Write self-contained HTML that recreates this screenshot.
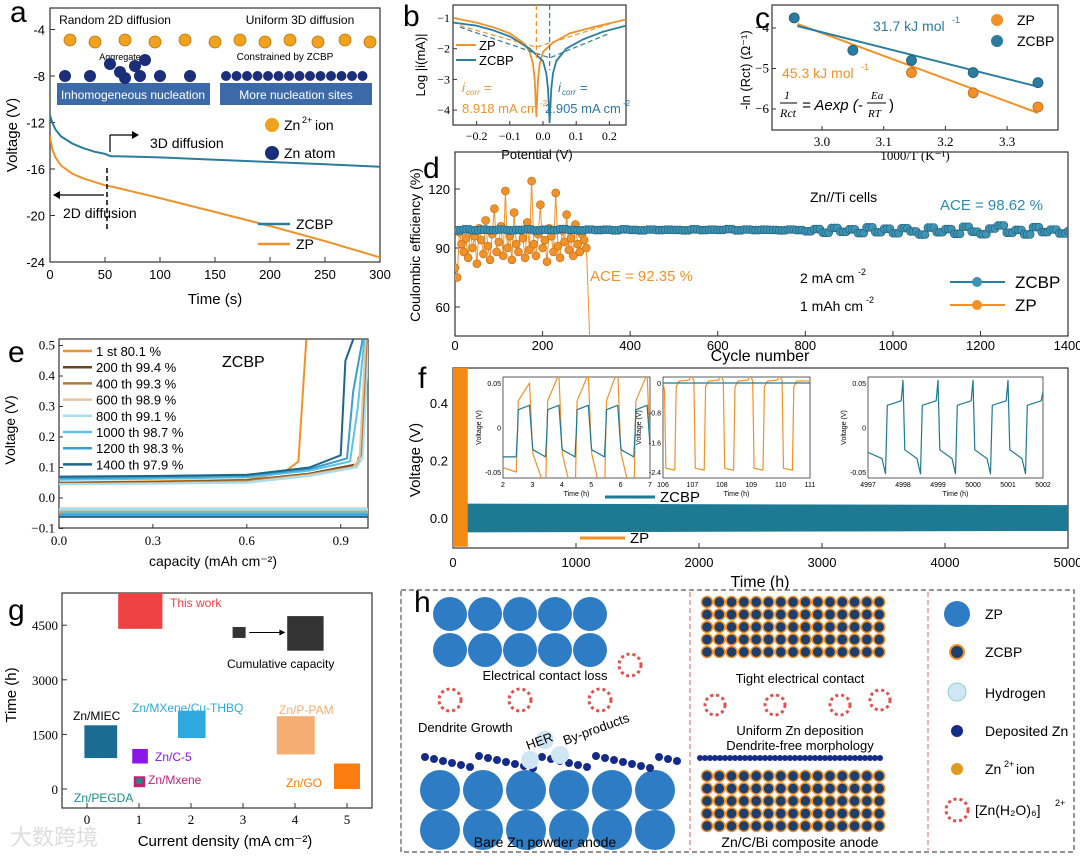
<!DOCTYPE html>
<html><head><meta charset="utf-8"><style>
html,body{margin:0;padding:0;background:#fff;}
svg{display:block;font-family:"Liberation Sans",sans-serif;}
.serif{font-family:"Liberation Serif",serif;}
</style></head><body>
<svg id="fig" width="1080" height="856" viewBox="0 0 1080 856" xmlns="http://www.w3.org/2000/svg"></svg>
<script>
// ---------- Panel a data ----------
const aTime = [0,2,5,10,20,30,40,50,55,60,100,150,200,250,300];
const aZCBP = [-11.4,-12.0,-12.6,-13.2,-13.8,-14.2,-14.5,-14.7,-14.9,-14.9,-15.0,-15.2,-15.4,-15.6,-15.8];
const aZP = [-13.2,-14.3,-15.0,-15.7,-16.4,-16.8,-17.1,-17.4,-17.5,-17.6,-18.5,-19.7,-20.9,-22.2,-23.6];
const aXTicks = [0,50,100,150,200,250,300];
const aYTicks = [-4,-8,-12,-16,-20,-24];
// ---------- Panel b data ----------
const bPotZP = [-0.27,-0.2,-0.15,-0.1,-0.06,-0.04,-0.03,-0.025,-0.02,-0.015,-0.01,0.0,0.03,0.08,0.15,0.25];
const bLogZP = [-1.0,-1.15,-1.3,-1.5,-1.8,-2.1,-2.5,-3.0,-4.2,-3.0,-2.5,-2.1,-1.8,-1.5,-1.3,-1.05];
const bPotZCBP = [-0.27,-0.2,-0.15,-0.1,-0.04,0.0,0.01,0.015,0.02,0.025,0.03,0.04,0.07,0.12,0.18,0.25];
const bLogZCBP = [-1.15,-1.25,-1.4,-1.6,-2.0,-2.4,-2.8,-3.3,-4.4,-3.3,-2.8,-2.4,-2.0,-1.7,-1.45,-1.25];
const bXTicks = [-0.2,-0.1,0.0,0.1,0.2];
const bYTicks = [-1,-2,-3,-4];
// ---------- Panel c data ----------
const cInvT = [2.955,3.05,3.145,3.245,3.35];
const cZCBP = [-3.75,-4.55,-4.8,-5.1,-5.35];
const cZPx = [3.145,3.245,3.35];
const cZP = [-5.1,-5.6,-5.95];
const cFitZCBP = [-3.95,-5.45];
const cFitZP = [-3.9,-6.1];
const cXTicks = [3.0,3.1,3.2,3.3];
const cYTicks = [-4,-5,-6];
// ---------- Panel d data ----------
const dZCBPvals = [99,99.5,99,99.3,99.1,99.4,99,99.2,99.5,99,99.3,99.1,99.6,99.2,99,99.4,99.1,99.3,99,99.5,99.2,99,99.4,99.1,99.3,99.2,99,99.5,99.1,99.3,99.2,99.6,99,99.4,99.1,99.3,99.2,99,99.4,99.1,98.5,99.6,97.8,100.2,98.2,99.5,97.6,100.5,98,99.8,97.5,100.1,98.4,96.8,100.4,98,99.6,97.2,100.8,98.3,97,99.9,101.5,97.8,99.2,96.9,100.6,98.1,99.4,97.4,98.6];
const dZCBPstep = 20;
const dZPvals = [80,75,98,92,88,95,85,99,90,96,82,100,94,87,104,91,84,97,110,88,93,101,86,119,90,96,84,108,92,88,99,95,85,103,89,124,92,86,97,112,90,94,83,100,96,88,118,91,85,99,93,107,89,95,86,102,92,88,97,94,90];
const dZPstep = 5;
const dXTicks = [0,200,400,600,800,1000,1200,1400];
const dYTicks = [60,90,120];
// ---------- Panel e data ----------
const eNames = ["1 st   80.1 %","200 th  99.4 %","400 th  99.3 %","600 th  98.9 %","800 th  99.1 %","1000 th  98.7 %","1200 th  98.3 %","1400 th  97.9 %"];
const eColors = ["#f0922a","#6e4522","#b07a3c","#e6c6a0","#a5e0f2","#5cc3ea","#3a9fd0","#1d6688"];
const eCap = [
 [0,0.3,0.6,0.72,0.765,0.79],
 [0,0.3,0.6,0.8,0.95,0.965,0.98],
 [0,0.3,0.6,0.8,0.95,0.965,0.985],
 [0,0.3,0.6,0.8,0.94,0.96,0.98],
 [0,0.3,0.6,0.8,0.95,0.97,0.99],
 [0,0.3,0.6,0.8,0.93,0.955,0.975],
 [0,0.3,0.6,0.8,0.92,0.94,0.97],
 [0,0.3,0.6,0.8,0.9,0.915,0.94]];
const eVolt = [
 [0.05,0.055,0.06,0.085,0.12,0.52],
 [0.05,0.052,0.058,0.08,0.11,0.15,0.52],
 [0.048,0.05,0.056,0.078,0.105,0.14,0.52],
 [0.045,0.048,0.052,0.075,0.1,0.13,0.52],
 [0.045,0.047,0.05,0.072,0.1,0.13,0.52],
 [0.06,0.063,0.068,0.09,0.12,0.3,0.52],
 [0.065,0.068,0.072,0.095,0.13,0.35,0.52],
 [0.07,0.072,0.076,0.1,0.14,0.45,0.52]];
const ePlating = [-0.05,-0.035,-0.04,-0.04,-0.035,-0.045,-0.055,-0.062];
const eXTicks = [0.0,0.3,0.6,0.9];
const eYTicks = [-0.1,0.0,0.1,0.2,0.3,0.4,0.5];
// ---------- Panel f data ----------
const fZCBPtime = [100,5000];
const fZCBPmin = [-0.05,-0.045];
const fZCBPmax = [0.05,0.045];
const fZPtime = [0,120];
const fZPmin = -0.1;
const fZPmax = 0.55;
const fXTicks = [0,1000,2000,3000,4000,5000];
const fYTicks = [0.0,0.2,0.4];
// ---------- Panel g data ----------
const gLabels = ["This work","Cumulative small","Cumulative large","Zn/MIEC","Zn/MXene/Cu-THBQ","Zn/C-5","Zn/Mxene","Zn/P-PAM","Zn/GO"];
const gX0 = [0.6,2.8,3.85,-0.05,1.75,0.87,0.9,3.65,4.75];
const gX1 = [1.45,3.05,4.55,0.58,2.28,1.17,1.12,4.38,5.25];
const gY0 = [4400,4150,3800,850,1400,700,50,950,0];
const gY1 = [5600,4450,4750,1750,2150,1100,350,2000,700];
const gColors = ["#ee4144","#333","#333","#1b6c92","#2ea9df","#8a16e8","#c41f77","#f4ad72","#fb7d12"];
const gXTicks = [0,1,2,3,4,5];
const gYTicks = [0,1500,3000,4500];

// ---------- helpers ----------
const NS="http://www.w3.org/2000/svg";
const svg=document.getElementById('fig');
function el(tag,attrs,parent){const e=document.createElementNS(NS,tag);for(const k in attrs)e.setAttribute(k,attrs[k]);(parent||svg).appendChild(e);return e;}
function txt(x,y,s,attrs,parent){const e=el('text',Object.assign({x:x,y:y},attrs||{}),parent);e.textContent=s;return e;}
function lin(a,b,c,d,col,w,dash,parent){const e=el('line',{x1:a,y1:b,x2:c,y2:d,stroke:col,'stroke-width':w||1},parent);if(dash)e.setAttribute('stroke-dasharray',dash);return e;}
function poly(xs,ys,fx,fy,col,w,parent,dash){const p=xs.map((v,i)=>fx(v).toFixed(1)+','+fy(ys[i]).toFixed(1)).join(' ');const e=el('polyline',{points:p,fill:'none',stroke:col,'stroke-width':w,'stroke-linejoin':'round'},parent);if(dash)e.setAttribute('stroke-dasharray',dash);return e;}
function frame(x0,y0,x1,y1,parent){return el('rect',{x:x0,y:y0,width:x1-x0,height:y1-y0,fill:'none',stroke:'#333','stroke-width':1.2},parent);}
function clip(id,x0,y0,x1,y1){const d=el('clipPath',{id:id});el('rect',{x:x0,y:y0,width:x1-x0,height:y1-y0},d);return 'url(#'+id+')';}
function panelLetter(x,y,s){const t=txt(x,y,s,{'font-size':30,'font-weight':'normal',fill:'#000'});}
const TEAL="#2b7c9e", ORANGE="#f0922a";

// ================= Panel a =================
const ga=el('g',{});


const ax=t=>50+t*1.1, ay=v=>262+(v+24)*(-11.625);
frame(50,8,380,262,ga);
aXTicks.forEach(t=>{lin(ax(t),262,ax(t),257,'#333',1,null,ga);const l=txt(ax(t),279,String(t),{'font-size':13,'text-anchor':'middle'},ga);});
aYTicks.forEach(v=>{lin(50,ay(v),55,ay(v),'#333',1,null,ga);const l=txt(45,ay(v)+5,String(v),{'font-size':13,'text-anchor':'end'},ga);});
{const t=txt(215,304,'Time (s)',{'font-size':15,'text-anchor':'middle'},ga);}
{const t=txt(0,0,'Voltage (V)',{'font-size':15,'text-anchor':'middle',transform:'translate(17,135) rotate(-90)'},ga);}
const ca=clip('ca',50,8,380,262);
{const p=poly(aTime,aZCBP,ax,ay,TEAL,2,ga);p.setAttribute('clip-path',ca);}
{const p=poly(aTime,aZP,ax,ay,ORANGE,2,ga);p.setAttribute('clip-path',ca);}
txt(115,24,'Random 2D diffusion',{'font-size':12,'text-anchor':'middle'},ga);
txt(300,24,'Uniform 3D diffusion',{'font-size':12,'text-anchor':'middle'},ga);
[70,95,125,155,185,215,240,265,290,318,345,370].forEach((x,i)=>{el('circle',{cx:x,cy:40+(i%2)*2,r:6,fill:'#f0a21e',stroke:'#b87410','stroke-width':0.8},ga);});
txt(120,60,'Aggregate',{'font-size':9,'text-anchor':'middle'},ga);
txt(285,60,'Constrained by ZCBP',{'font-size':10,'text-anchor':'middle'},ga);
{const r=el('rect',{x:57,y:83,width:153,height:22,fill:'#3c6aa8'},ga);}
{const r=el('rect',{x:220,y:83,width:152,height:22,fill:'#3c6aa8'},ga);}
txt(133,99,'Inhomogeneous nucleation',{'font-size':12,'fill':'#fff','text-anchor':'middle'},ga);
txt(296,99,'More nucleation sites',{'font-size':12,'fill':'#fff','text-anchor':'middle'},ga);
[[65,76],[90,76],[120,72],[140,76],[110,64],[135,66],[145,60],[160,76],[125,78],[190,76]].forEach(p=>el('circle',{cx:p[0],cy:p[1],r:6,fill:'#1a2e7a'},ga));
for(let x=226;x<372;x+=10.5)el('circle',{cx:x,cy:76,r:5,fill:'#1a2e7a'},ga);
el('circle',{cx:272,cy:125,r:7,fill:'#f0a21e'},ga);txt(284,130,'Zn',{'font-size':14},ga);txt(302,123,'2+',{'font-size':9},ga);txt(315,130,' ion',{'font-size':14},ga);
el('circle',{cx:272,cy:153,r:7,fill:'#1a2e7a'},ga);txt(284,158,'Zn atom',{'font-size':14},ga);
lin(107,168,107,232,'#000',1.5,'5,3',ga);
lin(110,152,110,135,'#000',1.2,null,ga);lin(110,135,132,135,'#000',1.2,null,ga);el('path',{d:'M132,131 L139,135 L132,139 Z',fill:'#000'},ga);
txt(150,148,'3D diffusion',{'font-size':14},ga);
lin(104,195,60,195,'#000',1.2,null,ga);el('path',{d:'M60,191 L53,195 L60,199 Z',fill:'#000'},ga);
txt(63,218,'2D diffusion',{'font-size':14},ga);
lin(258,224,290,224,TEAL,2.5,null,ga);txt(296,229,'ZCBP',{'font-size':14},ga);
lin(258,244,290,244,ORANGE,2.5,null,ga);txt(296,249,'ZP',{'font-size':14},ga);
panelLetter(10,22,'a');

// ================= Panel b =================
const gb=el('g',{});


const bx=p=>543+p*332, by=v=>18+(v+1)*(-30.7);
frame(453,5,626,125,gb);
bXTicks.forEach(p=>{lin(bx(p),125,bx(p),121,'#333',1,null,gb);const l=txt(bx(p),140,(p<0?'−':'')+Math.abs(p).toFixed(1),{'font-size':12,'text-anchor':'middle',class:'serif'},gb);});
bYTicks.forEach(v=>{lin(453,by(v),457,by(v),'#333',1,null,gb);const l=txt(450,by(v)+4,'−'+Math.abs(v),{'font-size':12,'text-anchor':'end',class:'serif'},gb);});
{const t=txt(537,159,'Potential (V)',{'font-size':13,'text-anchor':'middle'},gb);}
{const t=txt(0,0,'Log |i(mA)|',{'font-size':13,'text-anchor':'middle',transform:'translate(425,65) rotate(-90)'},gb);}
const cb=clip('cb',453,5,626,125);
{const p=poly(bPotZP,bLogZP,bx,by,ORANGE,1.8,gb);p.setAttribute('clip-path',cb);}
{const p=poly(bPotZCBP,bLogZCBP,bx,by,TEAL,1.8,gb);p.setAttribute('clip-path',cb);}
{const p=poly([-0.25,-0.02,0.2],[-1.25,-1.95,-1.2],bx,by,ORANGE,1.2,gb,'5,3');p.setAttribute('clip-path',cb);}
{const p=poly([-0.25,0.02,0.2],[-1.3,-2.3,-1.5],bx,by,TEAL,1.2,gb,'5,3');p.setAttribute('clip-path',cb);}
lin(bx(-0.02),5,bx(-0.02),60,ORANGE,1.2,'5,3',gb);lin(bx(0.02),5,bx(0.02),70,TEAL,1.2,'5,3',gb);
lin(456,45,476,45,ORANGE,2,null,gb);txt(479,50,'ZP',{'font-size':13},gb);
lin(456,60,476,60,TEAL,2,null,gb);txt(479,65,'ZCBP',{'font-size':13},gb);
txt(462,92,'i',{'font-size':13,fill:ORANGE,'font-style':'italic'},gb);txt(466,95,'corr',{'font-size':8,fill:ORANGE,'font-style':'italic'},gb);txt(484,92,'=',{'font-size':13,fill:ORANGE},gb);
txt(462,113,'8.918 mA cm',{'font-size':13,fill:ORANGE},gb);txt(540,106,'-2',{'font-size':8,fill:ORANGE},gb);
txt(558,92,'i',{'font-size':13,fill:TEAL,'font-style':'italic'},gb);txt(562,95,'corr',{'font-size':8,fill:TEAL,'font-style':'italic'},gb);txt(580,92,'=',{'font-size':13,fill:TEAL},gb);
txt(545,113,'2.905 mA cm',{'font-size':13,fill:TEAL},gb);txt(623,106,'-2',{'font-size':8,fill:TEAL},gb);
panelLetter(403,26,'b');

// ================= Panel c =================
const gc=el('g',{});


const cx=t=>822+(t-3.0)*617, cy=v=>28+(v+4)*(-40.5);
frame(772,5,1058,130,gc);
cXTicks.forEach(t=>{lin(cx(t),130,cx(t),126,'#333',1,null,gc);const l=txt(cx(t),146,t.toFixed(1),{'font-size':13,'text-anchor':'middle',class:'serif'},gc);});
cYTicks.forEach(v=>{lin(772,cy(v),776,cy(v),'#333',1,null,gc);const l=txt(769,cy(v)+4,'−'+Math.abs(v),{'font-size':13,'text-anchor':'end',class:'serif'},gc);});
{const t=txt(915,160,'1000/T (K⁻¹)',{'font-size':13,'text-anchor':'middle',class:'serif'},gc);}
{const t=txt(0,0,'-ln (Rct) (Ω⁻¹)',{'font-size':13,'text-anchor':'middle',transform:'translate(750,70) rotate(-90)'},gc);}
{const p=poly([2.96,3.35],cFitZP,cx,cy,ORANGE,2,gc);}
{const p=poly([2.96,3.35],cFitZCBP,cx,cy,TEAL,2,gc);}
cInvT.forEach((t,i)=>{const c=el('circle',{cx:cx(t),cy:cy(cZCBP[i]),r:5,fill:TEAL,stroke:'#1d5c78','stroke-width':0.8},gc);});
cZPx.forEach((t,i)=>{const c=el('circle',{cx:cx(t),cy:cy(cZP[i]),r:5,fill:ORANGE,stroke:'#c06a10','stroke-width':0.8},gc);});
txt(873,31,'31.7 kJ mol',{'font-size':14,fill:TEAL},gc);txt(952,23,'-1',{'font-size':9,fill:TEAL},gc);
txt(782,78,'45.3 kJ mol',{'font-size':14,fill:ORANGE},gc);txt(861,70,'-1',{'font-size':9,fill:ORANGE},gc);
txt(784,99,'1',{'font-size':12,'font-style':'italic',class:'serif'},gc);lin(780,103,797,103,'#000',1,null,gc);txt(780,117,'Rct',{'font-size':12,'font-style':'italic',class:'serif'},gc);
txt(802,110,'= Aexp (-',{'font-size':15,'font-style':'italic'},gc);
txt(871,99,'Ea',{'font-size':11,'font-style':'italic',class:'serif'},gc);lin(867,103,886,103,'#000',1,null,gc);txt(868,117,'RT',{'font-size':11,'font-style':'italic',class:'serif'},gc);txt(889,110,')',{'font-size':15},gc);
el('circle',{cx:997,cy:20,r:6,fill:ORANGE},gc);txt(1017,25,'ZP',{'font-size':14},gc);
el('circle',{cx:997,cy:41,r:6,fill:TEAL},gc);txt(1017,46,'ZCBP',{'font-size':14},gc);
panelLetter(755,28,'c');

// ================= Panel d =================
const gd=el('g',{});


const dx=n=>455+n*0.4379, dy=v=>307+(v-60)*(-1.967);
frame(455,152,1068,336,gd);
dXTicks.forEach(n=>{lin(dx(n),336,dx(n),331,'#333',1,null,gd);const l=txt(dx(n),350,String(n),{'font-size':13,'text-anchor':'middle'},gd);});
dYTicks.forEach(v=>{lin(455,dy(v),460,dy(v),'#333',1,null,gd);const l=txt(450,dy(v)+5,String(v),{'font-size':13,'text-anchor':'end'},gd);});
{const t=txt(760,361,'Cycle number',{'font-size':16,'text-anchor':'middle'},gd);}
{const t=txt(0,0,'Coulombic efficiency (%)',{'font-size':14,'text-anchor':'middle',transform:'translate(420,245) rotate(-90)'},gd);}
const cd=clip('cd',455,152,1068,336);
const dZPc=dZPvals.map((v,i)=>i*dZPstep);
{const p=poly(dZPc.concat([305,308]),dZPvals.concat([60,40]),dx,dy,ORANGE,1,gd);p.setAttribute('clip-path',cd);}
dZPvals.forEach((v,i)=>{const c=el('circle',{cx:dx(i*dZPstep),cy:dy(v),r:4,fill:ORANGE,stroke:'#c06a10','stroke-width':0.6,'clip-path':cd},gd);});
const dZc=dZCBPvals.map((v,i)=>i*dZCBPstep);
{const p=poly(dZc,dZCBPvals,dx,dy,TEAL,1,gd);p.setAttribute('clip-path',cd);}
dZCBPvals.forEach((v,i)=>{for(let k=0;k<3;k++){const c=el('circle',{cx:dx(i*dZCBPstep+k*dZCBPstep/3),cy:dy(v),r:4,fill:'#3f93b3',stroke:'#1d5c78','stroke-width':0.6,'clip-path':cd},gd);}});
txt(810,202,'Zn//Ti cells',{'font-size':14},gd);
txt(940,210,'ACE = 98.62 %',{'font-size':15,fill:'#2a8ab0'},gd);
txt(590,281,'ACE = 92.35 %',{'font-size':15,fill:ORANGE},gd);
txt(800,283,'2 mA cm',{'font-size':14},gd);txt(858,275,'-2',{'font-size':9},gd);
txt(800,311,'1 mAh cm',{'font-size':14},gd);txt(866,303,'-2',{'font-size':9},gd);
lin(950,282,1005,282,TEAL,2,null,gd);el('circle',{cx:977,cy:282,r:5,fill:'#3f93b3'},gd);txt(1015,288,'ZCBP',{'font-size':17},gd);
lin(950,305,1005,305,ORANGE,2,null,gd);el('circle',{cx:977,cy:305,r:5,fill:ORANGE},gd);txt(1015,311,'ZP',{'font-size':17},gd);
panelLetter(423,178,'d');

// ================= Panel e =================
const ge=el('g',{});


const ex=c=>59+c*313, ey=v=>498-v*305;
frame(59,339,368,528,ge);
eXTicks.forEach(c=>{lin(ex(c),528,ex(c),524,'#333',1,null,ge);const l=txt(ex(c),545,c.toFixed(1),{'font-size':13,'text-anchor':'middle',class:'serif'},ge);});
eYTicks.forEach(v=>{lin(59,ey(v),63,ey(v),'#333',1,null,ge);const l=txt(55,ey(v)+4,(v<0?'−':'')+Math.abs(v).toFixed(1),{'font-size':13,'text-anchor':'end',class:'serif'},ge);});
{const t=txt(213,566,'capacity (mAh cm⁻²)',{'font-size':14,'text-anchor':'middle'},ge);}
{const t=txt(0,0,'Voltage (V)',{'font-size':14,'text-anchor':'middle',transform:'translate(15,430) rotate(-90)'},ge);}
const ce=clip('ce',59,339,368,528);
eCap.forEach((cs,i)=>{const p=poly(cs,eVolt[i],ex,ey,eColors[i],2,ge);p.setAttribute('clip-path',ce);
 const q=poly([0,1.0],[ePlating[i],ePlating[i]],ex,ey,eColors[i],2,ge);q.setAttribute('clip-path',ce);});
eNames.forEach((n,i)=>{const y=351+i*16.2;lin(63,y,92,y,eColors[i],2.5,null,ge);const t=txt(96,y+5,n,{'font-size':13},ge);});
txt(222,367,'ZCBP',{'font-size':16},ge);
panelLetter(8,362,'e');

// ================= Panel f =================
const gf=el('g',{});


const fx=t=>453+t*0.123, fy=v=>518-v*287.5;
frame(453,368,1068,548,gf);
fXTicks.forEach(t=>{lin(fx(t),548,fx(t),543,'#333',1,null,gf);const l=txt(fx(t),567,String(t),{'font-size':13,'text-anchor':'middle'},gf);});
fYTicks.forEach(v=>{lin(453,fy(v),458,fy(v),'#333',1,null,gf);const l=txt(448,fy(v)+5,v.toFixed(1),{'font-size':13,'text-anchor':'end'},gf);});
{const t=txt(760,587,'Time (h)',{'font-size':16,'text-anchor':'middle'},gf);}
{const t=txt(0,0,'Voltage (V)',{'font-size':15,'text-anchor':'middle',transform:'translate(420,460) rotate(-90)'},gf);}
const cf=clip('cf',453,368,1068,548);
{const pts=[fx(fZCBPtime[0])+','+fy(fZCBPmax[0]),fx(fZCBPtime[1])+','+fy(fZCBPmax[1]),fx(fZCBPtime[1])+','+fy(fZCBPmin[1]),fx(fZCBPtime[0])+','+fy(fZCBPmin[0])].join(' ');
 const p=el('polygon',{points:pts,fill:'#1d7a92','clip-path':cf},gf);}
{const r=el('rect',{x:fx(fZPtime[0]),y:fy(fZPmax),width:fx(fZPtime[1])-fx(fZPtime[0]),height:fy(fZPmin)-fy(fZPmax),fill:'#f58a12','clip-path':cf},gf);}
lin(605,497,655,497,'#1d7a92',3,null,gf);txt(660,502,'ZCBP',{'font-size':15},gf);
lin(580,538,625,538,ORANGE,3,null,gf);txt(630,543,'ZP',{'font-size':15},gf);
function inset(x0,y0,w,h,ticksX,ticksY,seriesT,sO,sB,name){
 const g=el('g',{},gf);
 el('rect',{x:x0,y:y0,width:w,height:h,fill:'#fff',stroke:'#333','stroke-width':0.8},g);
 const px=(v)=>x0+(v-ticksX[0])/(ticksX[ticksX.length-1]-ticksX[0])*w;
 const yl=ticksY[ticksY.length-1], yh=ticksY[0];
 const py=(v)=>y0+6+(yh-v)/(yh-yl)*(h-12);
 const cp=clip(name+'-clip',x0,y0,x0+w,y0+h);
 ticksX.forEach(t=>txt(px(t),y0+h+9,String(t),{'font-size':7,'text-anchor':'middle'},g));
 ticksY.forEach(t=>txt(x0-2,py(t)+3,String(t),{'font-size':7,'text-anchor':'end'},g));
 txt(x0+w/2,y0+h+18,'Time (h)',{'font-size':7,'text-anchor':'middle'},g);
 txt(0,0,'Voltage (V)',{'font-size':7,'text-anchor':'middle',transform:'translate('+(x0-22)+','+(y0+h/2)+') rotate(-90)'},g);
 if(sO){const p=poly(seriesT,sO,px,py,ORANGE,1.2,g);p.setAttribute('clip-path',cp);}
 const q=poly(seriesT,sB,px,py,'#1d7a92',1.2,g);q.setAttribute('clip-path',cp);
}
const in1T=[2,2.45,2.5,2.52,2.9,3.0,3.02,3.45,3.5,3.52,3.9,4.0,4.02,4.45,4.5,4.52,4.9,5.0,5.02,5.45,5.5,5.52,5.9,6.0,6.02,6.45,6.5,6.52,6.9,7];
const in1O=[-0.045,-0.05,0.0,0.03,0.05,-0.02,-0.03,-0.07,0.0,0.03,0.06,-0.02,-0.03,-0.09,0.0,0.03,0.06,-0.02,-0.03,-0.09,0.0,0.03,0.065,-0.02,-0.03,-0.09,0.0,0.03,0.06,-0.02];
const in1B=[-0.033,-0.033,0.0,0.02,0.025,-0.02,-0.025,-0.033,0.0,0.02,0.025,-0.02,-0.025,-0.033,0.0,0.02,0.025,-0.02,-0.025,-0.033,0.0,0.02,0.025,-0.02,-0.025,-0.033,0.0,0.02,0.025,-0.02];
inset(503,377,147,101,[2,3,4,5,6,7],[0.05,0,-0.05],in1T,in1O,in1B,'f-inset-1');
const in2T=[106,106.05,106.1,106.4,106.45,106.55,106.9,106.95,107.05,107.1,107.4,107.45,107.55,107.9,107.95,108.05,108.1,108.4,108.45,108.55,108.9,108.95,109.05,109.1,109.4,109.45,109.55,109.9,109.95,110.05,110.1,110.4,110.45,110.55,111];
const in2O=[0,-0.2,-2.3,-2.35,-0.1,0.05,0.08,0.25,0.05,-2.3,-2.35,-0.1,0.05,0.08,0.25,0.05,-2.3,-2.35,-0.1,0.05,0.08,0.25,0.05,-2.3,-2.35,-0.1,0.05,0.08,0.25,0.05,-2.3,-2.35,-0.1,0.05,0.06];
const in2B=in2T.map(()=>0);
inset(663,377,147,101,[106,107,108,109,110,111],[0,-0.8,-1.6,-2.4],in2T,in2O,in2B,'f-inset-2');
const in3T=[4997,4997.4,4997.5,4997.55,4997.95,4998,4998.05,4998.4,4998.5,4998.55,4998.95,4999,4999.05,4999.4,4999.5,4999.55,4999.95,5000,5000.05,5000.4,5000.5,5000.55,5000.95,5001,5001.05,5001.4,5001.5,5001.55,5001.95,5002];
const in3B=[-0.028,-0.035,-0.052,0.025,0.03,0.053,-0.025,-0.035,-0.052,0.025,0.03,0.053,-0.025,-0.035,-0.052,0.025,0.03,0.053,-0.025,-0.035,-0.052,0.025,0.03,0.053,-0.025,-0.035,-0.052,0.025,0.03,0.04];
inset(868,377,175,101,[4997,4998,4999,5000,5001,5002],[0.05,0,-0.05],in3T,null,in3B,'f-inset-3');
panelLetter(418,388,'f');

// ================= Panel g =================
const gg=el('g',{});


const gx=c=>87+c*52, gy=t=>789-t*(54.6/1500);
frame(62,593,372,808,gg);
gXTicks.forEach(c=>{lin(gx(c),808,gx(c),803,'#333',1,null,gg);const l=txt(gx(c),824,String(c),{'font-size':13,'text-anchor':'middle',class:'serif'},gg);});
gYTicks.forEach(t=>{lin(62,gy(t),67,gy(t),'#333',1,null,gg);const l=txt(58,gy(t)+5,String(t),{'font-size':13,'text-anchor':'end',class:'serif'},gg);});
{const t=txt(225,846,'Current density (mA cm⁻²)',{'font-size':15,'text-anchor':'middle'},gg);}
{const t=txt(0,0,'Time (h)',{'font-size':15,'text-anchor':'middle',transform:'translate(16,695) rotate(-90)'},gg);}
const cg=clip('cg',62,593,372,808);
gLabels.forEach((n,i)=>{const r=el('rect',{x:gx(gX0[i]),y:gy(gY1[i]),width:gx(gX1[i])-gx(gX0[i]),height:gy(gY0[i])-gy(gY1[i]),fill:gColors[i],'clip-path':cg},gg);});
el('rect',{x:gx(0.95),y:gy(300),width:6,height:6,fill:'#1a8a8a'},gg);
lin(gx(3.12),gy(4300),gx(3.7),gy(4300),'#000',1,null,gg);el('path',{d:'M'+gx(3.7)+','+(gy(4300)-3)+' l6,3 l-6,3 z',fill:'#000'},gg);
txt(170,607,'This work',{'font-size':12,fill:'#ee4144'},gg);
txt(227,668,'Cumulative capacity',{'font-size':12},gg);
txt(132,712,'Zn/MXene/Cu-THBQ',{'font-size':12,fill:'#2ea9df'},gg);
txt(73,720,'Zn/MIEC',{'font-size':12},gg);
txt(279,714,'Zn/P-PAM',{'font-size':12,fill:'#f4ad72'},gg);
txt(155,761,'Zn/C-5',{'font-size':12,fill:'#8a16e8'},gg);
txt(148,784,'Zn/Mxene',{'font-size':12,fill:'#c41f77'},gg);
txt(286,787,'Zn/GO',{'font-size':12,fill:'#fb7d12'},gg);
txt(74,802,'Zn/PEGDA',{'font-size':12,fill:'#1a8a8a'},gg);
txt(10,845,'大数跨境',{'font-size':22,fill:'#ddd',style:'font-family:"Liberation Sans","Noto Sans CJK SC",sans-serif'},gg);
panelLetter(8,620,'g');

// ================= Panel h =================
const gh=el('g',{});


el('rect',{x:401,y:590,width:673,height:262,fill:'none',stroke:'#555','stroke-width':1.2,'stroke-dasharray':'5,3'},gh);
lin(690,592,690,850,'#e08080',1.2,'5,3',gh);lin(928,592,928,850,'#e08080',1.2,'5,3',gh);
for(let r=0;r<2;r++)for(let c=0;c<5;c++)el('circle',{cx:450+c*35,cy:614+r*36,r:17,fill:'#2e7cc3'},gh);
for(let r=0;r<2;r++)for(let c=0;c<6;c++)el('circle',{cx:440+c*43,cy:790+r*40,r:20,fill:'#2e7cc3'},gh);
for(let x=425;x<680;x+=9)el('circle',{cx:x,cy:768-((x*7)%13),r:4,fill:'#152b8a'},gh);
[[450,700],[520,700],[600,700],[630,665]].forEach(p=>el('circle',{cx:p[0],cy:p[1],r:11,fill:'none',stroke:'#e05050','stroke-width':3,'stroke-dasharray':'3,3'},gh));
[[545,740],[560,755],[530,760]].forEach(p=>el('circle',{cx:p[0],cy:p[1],r:9,fill:'#cfe6f4'},gh));
txt(545,680,'Electrical contact loss',{'font-size':13,'text-anchor':'middle'},gh);
txt(418,732,'Dendrite Growth',{'font-size':13},gh);
txt(0,0,'HER',{'font-size':13,transform:'translate(528,750) rotate(-20)'},gh);
txt(0,0,'By-products',{'font-size':13,transform:'translate(565,745) rotate(-20)'},gh);
txt(545,847,'Bare Zn powder anode',{'font-size':14,'text-anchor':'middle'},gh);
for(let r=0;r<5;r++)for(let c=0;c<15;c++)el('circle',{cx:707+c*12.3,cy:602+r*12.5,r:5.5,fill:'#1d3f6e',stroke:'#f0922a','stroke-width':1.5},gh);
for(let r=0;r<5;r++)for(let c=0;c<15;c++)el('circle',{cx:707+c*12.3,cy:776+r*12.5,r:5.5,fill:'#1d3f6e',stroke:'#f0922a','stroke-width':1.5},gh);
for(let x=700;x<885;x+=5)el('circle',{cx:x,cy:758,r:3,fill:'#152b8a'},gh);
txt(800,683,'Tight electrical contact',{'font-size':13,'text-anchor':'middle'},gh);
[[715,705],[775,705],[840,705],[880,700]].forEach(p=>el('circle',{cx:p[0],cy:p[1],r:10,fill:'none',stroke:'#e05050','stroke-width':3,'stroke-dasharray':'3,3'},gh));
txt(800,735,'Uniform Zn deposition',{'font-size':13,'text-anchor':'middle'},gh);
txt(800,750,'Dendrite-free morphology',{'font-size':13,'text-anchor':'middle'},gh);
txt(800,847,'Zn/C/Bi composite anode',{'font-size':14,'text-anchor':'middle'},gh);
el('circle',{cx:957,cy:614,r:13,fill:'#2e7cc3'},gh);txt(985,619,'ZP',{'font-size':14},gh);
el('circle',{cx:957,cy:652,r:7,fill:'#1d3f6e',stroke:'#f0922a','stroke-width':2},gh);txt(985,657,'ZCBP',{'font-size':14},gh);
el('circle',{cx:957,cy:692,r:9,fill:'#cfe6f4',stroke:'#9cc'},gh);txt(985,698,'Hydrogen',{'font-size':14},gh);
el('circle',{cx:957,cy:731,r:6,fill:'#152b8a'},gh);txt(985,736,'Deposited Zn',{'font-size':14},gh);
el('circle',{cx:957,cy:769,r:6,fill:'#e09a20'},gh);txt(985,774,'Zn',{'font-size':14},gh);txt(1004,767,'2+',{'font-size':9},gh);txt(1016,774,' ion',{'font-size':14},gh);
el('circle',{cx:957,cy:810,r:11,fill:'none',stroke:'#e05050','stroke-width':3,'stroke-dasharray':'3,3'},gh);txt(975,815,'[Zn(H₂O)₆]',{'font-size':14},gh);txt(1055,806,'2+',{'font-size':9},gh);
panelLetter(414,612,'h');
</script>
</body></html>
